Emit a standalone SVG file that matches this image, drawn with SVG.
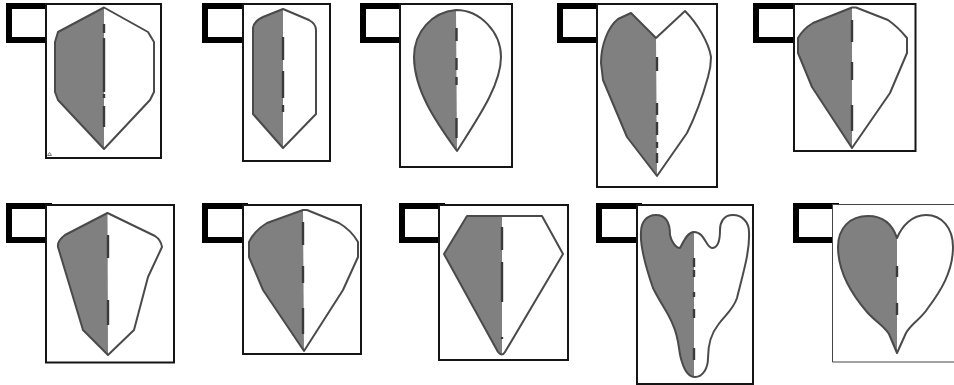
<svg xmlns="http://www.w3.org/2000/svg" width="954" height="385" viewBox="0 0 954 385">
<style>
.tab{fill:#fff;stroke:#000;stroke-width:6}
.panel{fill:#fff;stroke:#151515;stroke-width:2}
.l{fill:#808080;stroke:none}
.o{fill:none;stroke:#4a4a4a;stroke-width:2;stroke-linejoin:round}
.d{fill:none;stroke:#3a3a3a;stroke-width:2.4}
</style>
<rect width="954" height="385" fill="#fff"/>
<g id="flight-1">
<rect class="tab" x="9" y="6" width="40" height="34"/><rect class="panel" x="46" y="4" width="115" height="154"/>
<path class="l" d="M104 7.500L58 32L55 42V92L58 100L104 149Z"/>
<path class="o" d="M104 7.500L58 32L55 42V92L58 100L104 149L150 100L154 92V42L148 32Z"/>
<path class="d" d="M104 24V33M104 38V92M104 94V98M104 106V127"/>
<path d="M47.500 155.500L49.500 152.500L51.500 155.500Z" fill="none" stroke="#777" stroke-width="1"/>
</g>
<g id="flight-2">
<rect class="tab" x="205" y="6" width="40" height="34"/><rect class="panel" x="243" y="4" width="87" height="157"/>
<path class="l" d="M283 9L263 17Q254 21 253 28V114L283 148Z"/>
<path class="o" d="M283 9L263 17Q254 21 253 28V114L283 148L316 114V30Q316 24 309 20Z"/>
<path class="d" d="M283 37V60M283 71V98M283 105V112"/>
</g>
<g id="flight-3">
<rect class="tab" x="363" y="6" width="40" height="34"/><rect class="panel" x="400" y="4" width="112" height="163"/>
<path class="l" d="M456 10C432 12 414 32 414 57C414 90 436 122 457 151Z"/>
<path class="o" d="M456 10C432 12 414 32 414 57C414 90 436 122 457 151C478 118 501 85 501 57C501 32 480 10 456 10Z"/>
<path class="d" d="M456.500 28V41M456.500 58V70M456.500 77V85M456.500 118V138"/>
</g>
<g id="flight-4">
<rect class="tab" x="560" y="6" width="40" height="34"/><rect class="panel" x="597" y="4" width="120" height="183"/>
<path class="l" d="M656 38L631 13L618 19C608 27 601 45 601 63L603 80L627 137L657 176Z"/>
<path class="o" d="M656 38L631 13L618 19C608 27 601 45 601 63L603 80L627 137L657 176L687 133C697 113 703 95 708 77Q711 67 711 57C709 43 697 23 685 11Z"/>
<path class="d" d="M657 57V71M657 103V115M657 122V135M657 142V148M657 153V163"/>
</g>
<g id="flight-5">
<rect class="tab" x="756" y="6" width="40" height="34"/><rect class="panel" x="794" y="4" width="121.500" height="147"/>
<path class="l" d="M852 7.500L813 23Q803 29 798 38V53L812 87L852 148Z"/>
<path class="o" d="M852 7.500L813 23Q803 29 798 38V53L812 87L852 148L890 93L907 53V38Q898 27 888 20L856 7.500Z"/>
<path class="d" d="M852 20V42M852 62V80M852 105V131"/>
</g>
<g id="flight-6">
<rect class="tab" x="9" y="206" width="40" height="34"/><rect class="panel" x="46" y="205" width="128" height="157.500"/>
<path class="l" d="M107.500 213L65 235Q57 241 58 247L83 330L108 355Z"/>
<path class="o" d="M107.500 213L65 235Q57 241 58 247L83 330L108 355L134 330L148 277L162 247Q161 240 155 236Z"/>
<path class="d" d="M108 235V258M108 300V325"/>
</g>
<g id="flight-7">
<rect class="tab" x="205" y="206" width="40" height="34"/><rect class="panel" x="243" y="205" width="118" height="149"/>
<path class="l" d="M303 210L267 223Q255 230 249 242V257L263 290L304 351Z"/>
<path class="o" d="M303 210L267 223Q255 230 249 242V257L263 290L304 351L343 290L358 257V242Q351 230 339 223L307 210Z"/>
<path class="d" d="M303 222V245M303 266V283M303 308V334"/>
</g>
<g id="flight-8">
<rect class="tab" x="402" y="206" width="40" height="34"/><rect class="panel" x="439" y="205" width="129" height="155"/>
<path class="l" d="M467 216H502V355Q499 355 498 352L444 254Z"/>
<path class="o" d="M467 216H542L563 254L505 352Q502 357 498 352L444 254Z"/>
<path class="d" d="M502 227V250M502 262V302M502 337V339"/>
</g>
<g id="flight-9">
<rect class="tab" x="599" y="206" width="40" height="34"/><rect class="panel" x="637" y="205" width="116" height="179"/>
<path class="l" d="M694 232C687 232 683 243 680 248C675 248 671 240 670 235C670 225 667 215 656 215C646 215 641 223 641 232C640 245 644 262 653 288C662 306 668 312 673 325C680 340 678 352 682 362C685 372 689 377 694 377Z"/>
<path class="o" d="M694 232C687 232 683 243 680 248C675 248 671 240 670 235C670 225 667 215 656 215C646 215 641 223 641 232C640 245 644 262 653 288C662 306 668 312 673 325C680 340 678 352 682 362C685 372 689 377 695 377C703 377 708 368 708 358C708 345 710 335 718 325C725 315 733 310 737 298C744 270 750 250 749 232C749 222 742 215 733 215C723 215 720 223 720 230C720 240 718 248 712 248C706 248 705 232 694 232Z"/>
<path class="d" d="M694 258V267M694 270V277M694 292V297M694 309V318M694 348V360"/>
</g>
<g id="flight-10">
<rect class="tab" x="796" y="206" width="40" height="34"/>
<path d="M954 204.500H832.500V362H954V204.500" fill="#fff" stroke="none"/>
<path d="M954 204.500H832.500V362H954" fill="none" stroke="#444" stroke-width="1"/>
<path class="l" d="M897 238C893 226 884 216 868 216C850 216 838 228 838 247C838 268 848 290 867 312C876 322 884 326 889 334L897 353Z"/>
<path class="o" d="M897 238C893 226 884 216 868 216C850 216 838 228 838 247C838 268 848 290 867 312C876 322 884 326 889 334L897 353L906 333C912 323 920 320 928 308C940 292 953 272 953 247C953 228 942 215 926 215C912 215 902 226 897 238Z"/>
<path class="d" d="M897 266V277M897 303V315"/>
</g>
</svg>
